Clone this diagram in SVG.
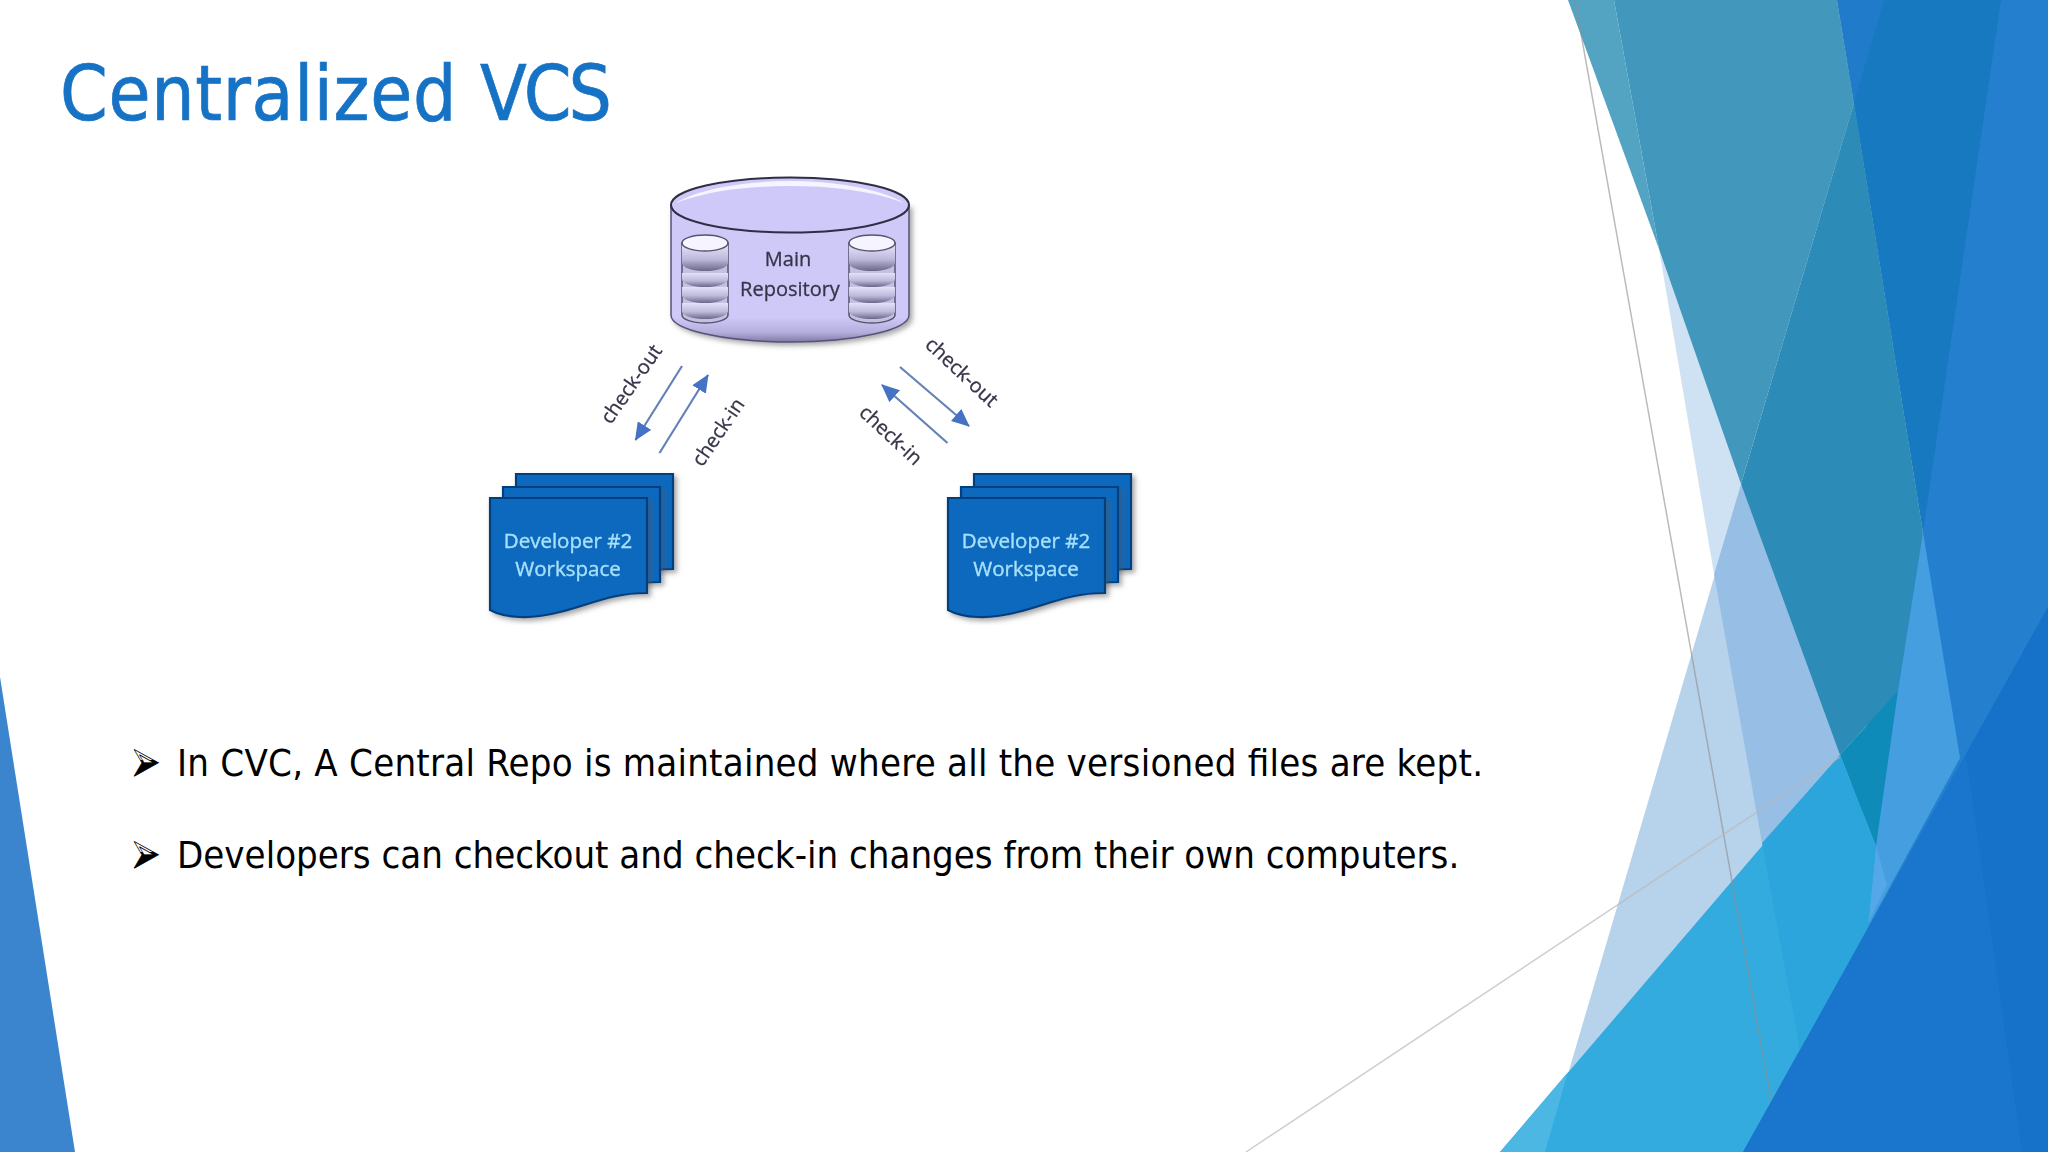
<svg xmlns="http://www.w3.org/2000/svg" width="2048" height="1152" viewBox="0 0 2048 1152">
<style>
.title{font-family:"DejaVu Sans Condensed","DejaVu Sans",sans-serif;font-size:76px;fill:#1672C4;stroke:#1672C4;stroke-width:.7}
.body{font-family:"DejaVu Sans Condensed","DejaVu Sans",sans-serif;font-size:38px;fill:#000}
.bul{font-family:"DejaVu Sans",sans-serif;font-size:36px;fill:url(#bulfill);stroke:#000;stroke-width:.5}
.lab{font-family:"Open Sans","Liberation Sans",sans-serif;font-size:20px;fill:#35354a;stroke:#35354a;stroke-width:.3;text-anchor:middle}
.dev{font-family:"Open Sans","Liberation Sans",sans-serif;font-size:20.5px;fill:#A8E0FA;stroke:#A8E0FA;stroke-width:.35;text-anchor:middle}
.conn{stroke:#6482B8;stroke-width:2.2;fill:none;marker-end:url(#ah)}
.page{fill:#0F69BE;stroke:#063F7E;stroke-width:2.2}
</style>
<defs>
<marker id="ah" markerUnits="userSpaceOnUse" markerWidth="20" markerHeight="16" refX="17" refY="8" orient="auto"><path d="M0,0L18,8L0,16Z" fill="#4472C4"/></marker>
<linearGradient id="bulfill" x1="0" x2="0" y1="0" y2="1"><stop offset=".5" stop-color="#fff"/><stop offset=".5" stop-color="#000"/></linearGradient>
<linearGradient id="cyl" x1="0" x2="0" y1="0" y2="1"><stop offset="0" stop-color="#CFC9F7"/><stop offset=".82" stop-color="#CFC9F7"/><stop offset=".93" stop-color="#B4AEDC"/><stop offset="1" stop-color="#7F7AA6"/></linearGradient>
<linearGradient id="disk" x1="0" x2="0" y1="0" y2="1"><stop offset="0" stop-color="#E4E1F8"/><stop offset=".55" stop-color="#BDB9DC"/><stop offset="1" stop-color="#6A6788"/></linearGradient>
<filter id="soft" x="-5%" y="-5%" width="110%" height="110%"><feGaussianBlur stdDeviation="0.7"/></filter>
<filter id="shadow" x="-10%" y="-10%" width="120%" height="125%"><feDropShadow dx="3" dy="3" stdDeviation="2.5" flood-color="#555" flood-opacity=".5"/></filter>
<g id="smallcyl">
<path d="M0,8V80A23,8 0 0 0 46,80V8Z" fill="#C4C0E2" stroke="#55536E" stroke-width="1.5"/>
<path d="M0,10V28A23,8 0 0 0 46,28V10Z" fill="url(#disk)"/>
<path d="M0,38V44A23,8 0 0 0 46,44V38Z" fill="url(#disk)"/>
<path d="M0,52V60A23,8 0 0 0 46,60V52Z" fill="url(#disk)"/>
<path d="M0,68V76A23,8 0 0 0 46,76V68Z" fill="url(#disk)"/>
<ellipse cx="23" cy="8" rx="23" ry="8" fill="#F6F4FE" stroke="#55536E" stroke-width="1.5"/>
</g>
<path id="pg" d="M0,0H157V95C120,95 100,107 70,114C40,122 15,120 0,112Z"/>
</defs>
<rect width="2048" height="1152" fill="#fff"/>
<g id="background">
<path d="M0,677L75,1152H0Z" fill="#3A85CE"/>
<path d="M1884,0L1545,1152H1860L1860,0Z" fill="#B7D3EC"/>
<path d="M1659,249L1741,484L1714,574Z" fill="#CFE2F4"/>
<path d="M1741,484L1840,755L1762,843L1714,574Z" fill="#97BEE5"/>
<path d="M1837,0H2048V1152H1743L1923,532Z" fill="#247FCF"/>
<path d="M1837,0H1884L1854,103Z" fill="#217BCB"/>
<path d="M1884,0H2001L1923,532L1854,103Z" fill="#1779BF"/>
<path d="M1568,0H1614L1659,249Z" fill="#53A4C3"/>
<path d="M1614,0H1837L1854,103L1741,484L1659,249Z" fill="#4298BC"/>
<path d="M1854,103L1923,532L1898,691L1840,755L1741,484Z" fill="#2D8BB8"/>
<path d="M1840,755L1898,691L1876,846Z" fill="#0E8BB8"/>
<path d="M1923,532L1960,758L1868,927L1876,846L1898,691Z" fill="#449EDF"/>
<path d="M1876,846L1887,885L1866,927Z" fill="#55A8E8"/>
<path d="M1840,755L1876,846L1868,927L1743,1152H1500Z" fill="#34ABDE"/>
<path d="M1762,843L1840,755L1876,846L1868,927L1800,1050Z" fill="#2BA5DB"/>
<path d="M1500,1152L1568,1072L1545,1152Z" fill="#4CB7E3"/>
<path d="M2048,607V1152H1743Z" fill="#1976CC"/>
<path d="M1966,755L2048,607V1152H2022Z" fill="#1672C8"/>
<path d="M1575,0L1771,1100" stroke="#8E8E8E" stroke-opacity=".6" stroke-width="1.5" fill="none"/>
<path d="M1246,1152L1840,757" stroke="#B8B8B8" stroke-opacity=".7" stroke-width="1.5" fill="none"/>
</g>
<text class="title" x="60" y="120"><tspan letter-spacing=".7">Centralized </tspan><tspan x="480" letter-spacing="-3">VCS</tspan></text>
<g id="repo" filter="url(#soft)">
<path d="M671,205V315A119,27 0 0 0 909,315V205Z" fill="url(#cyl)" stroke="#55527A" stroke-width="1.5" filter="url(#shadow)"/>
<ellipse cx="790" cy="205" rx="119" ry="27.5" fill="#CFC9F9" stroke="#2F2D45" stroke-width="2"/>
<path d="M676,203C700,188 750,181 790,181C830,181 880,188 904,203C870,190 830,186 790,186C750,186 710,190 676,203Z" fill="#F6F4FE"/>
<use href="#smallcyl" x="682" y="235"/>
<use href="#smallcyl" x="849" y="235"/>
<text class="lab" x="788" y="266">Main</text>
<text class="lab" x="790" y="296">Repository</text>
</g>
<g id="dev-left" filter="url(#soft)">
<use href="#pg" class="page" x="516" y="474" filter="url(#shadow)"/>
<use href="#pg" class="page" x="503" y="487" filter="url(#shadow)"/>
<use href="#pg" class="page" x="490" y="498" filter="url(#shadow)"/>
<text class="dev" x="568" y="548">Developer #2</text>
<text class="dev" x="568" y="576">Workspace</text>
</g>
<g id="dev-right" filter="url(#soft)">
<use href="#pg" class="page" x="974" y="474" filter="url(#shadow)"/>
<use href="#pg" class="page" x="961" y="487" filter="url(#shadow)"/>
<use href="#pg" class="page" x="948" y="498" filter="url(#shadow)"/>
<text class="dev" x="1026" y="548">Developer #2</text>
<text class="dev" x="1026" y="576">Workspace</text>
</g>
<g id="connectors" filter="url(#soft)">
<path class="conn" d="M682,366L635.5,440"/>
<path class="conn" d="M659.5,453L708,375"/>
<path class="conn" d="M900,367L969,426"/>
<path class="conn" d="M947.5,443L882,385"/>
</g>
<g id="connector-labels" filter="url(#soft)">
<text class="lab" transform="translate(631,384) rotate(-55)" y="7">check-out</text>
<text class="lab" transform="translate(718,432) rotate(-56)" y="7">check-in</text>
<text class="lab" transform="translate(962,372) rotate(43)" y="7">check-out</text>
<text class="lab" transform="translate(891,435) rotate(43)" y="7">check-in</text>
</g>
<text class="bul" transform="translate(130,776) scale(1,1.7)" x="0" y="3.3">➢</text>
<text class="body" x="177" y="776" textLength="1306" lengthAdjust="spacing">In CVC, A Central Repo is maintained where all the versioned files are kept.</text>
<text class="bul" transform="translate(130,868) scale(1,1.7)" x="0" y="3.3">➢</text>
<text class="body" x="177" y="868">Developers can checkout and check-in changes from their own computers.</text>
</svg>
